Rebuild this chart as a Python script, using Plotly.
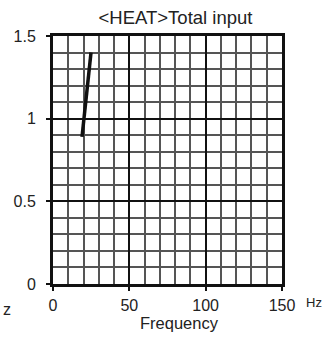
import plotly.graph_objects as go

freq = [19.0, 20.3, 24.9]
total_input = [0.89, 1.00, 1.40]

x_ticks = [0, 50, 100, 150]
y_ticks = [0, 0.5, 1, 1.5]
y_tick_labels = ["0", "0.5", "1", "1.5"]

W, H = 334, 338
L, R, T, B = 52.5, 51.5, 35.5, 53.5
PW, PH = W - L - R, H - T - B

fig = go.Figure()
fig.add_trace(go.Scatter(x=freq, y=total_input, mode="lines",
                         line=dict(color="#111111", width=3.5), showlegend=False))

font = dict(family="Liberation Sans, Arial, sans-serif", color="#222222")

fig.update_layout(
    width=W, height=H,
    margin=dict(l=L, r=R, t=T, b=B),
    paper_bgcolor="white", plot_bgcolor="white",
    font=dict(size=16, **font),
    title=dict(text="&lt;HEAT&gt;Total input", x=175.5 / W, xanchor="center",
               y=1 - 17.5 / H, yanchor="middle", font=dict(size=18.5, **font)),
)
fig.update_xaxes(
    range=[0, 150], tickvals=x_ticks, ticktext=[str(v) for v in x_ticks],
    automargin=False,
    showgrid=True, gridcolor="#111111", gridwidth=2,
    minor=dict(dtick=10, showgrid=True, gridcolor="#555555", gridwidth=1.5),
    showline=True, linecolor="#111111", linewidth=3, mirror=True,
    ticks="outside", ticklen=4, tickwidth=2, tickcolor="#111111",
    ticklabelstandoff=1,
    zeroline=False,
    tickfont=dict(size=16, **font),
)
fig.update_yaxes(
    range=[0, 1.5], tickvals=y_ticks, ticktext=y_tick_labels,
    automargin=False,
    showgrid=True, gridcolor="#111111", gridwidth=2,
    minor=dict(dtick=0.1, showgrid=True, gridcolor="#555555", gridwidth=1.5),
    showline=True, linecolor="#111111", linewidth=3, mirror=True,
    ticks="outside", ticklen=4, tickwidth=2, tickcolor="#111111",
    ticklabelstandoff=7,
    zeroline=False,
    tickfont=dict(size=16, **font),
)


def px_to_paper(px, py):
    return (px - L) / PW, (H - B - py) / PH


ax_, ay_ = px_to_paper(179.5, 323.5)
fig.add_annotation(text="Frequency", xref="paper", yref="paper", x=ax_, y=ay_,
                   xanchor="center", yanchor="middle", showarrow=False,
                   font=dict(size=16.5, **font))
hx, hy = px_to_paper(305, 303)
fig.add_annotation(text="Hz", xref="paper", yref="paper", x=hx, y=hy,
                   xanchor="left", yanchor="middle", showarrow=False,
                   font=dict(size=13, **font))
zx, zy = px_to_paper(0, 310)
fig.add_annotation(text="z", xref="paper", yref="paper", x=zx, y=zy,
                   xanchor="left", yanchor="middle", showarrow=False,
                   font=dict(size=16, **font))

fig.write_html("out.html",
               config={"displayModeBar": False},
               post_script="document.body.style.margin='0';"
                           "document.body.style.overflow='hidden';")
